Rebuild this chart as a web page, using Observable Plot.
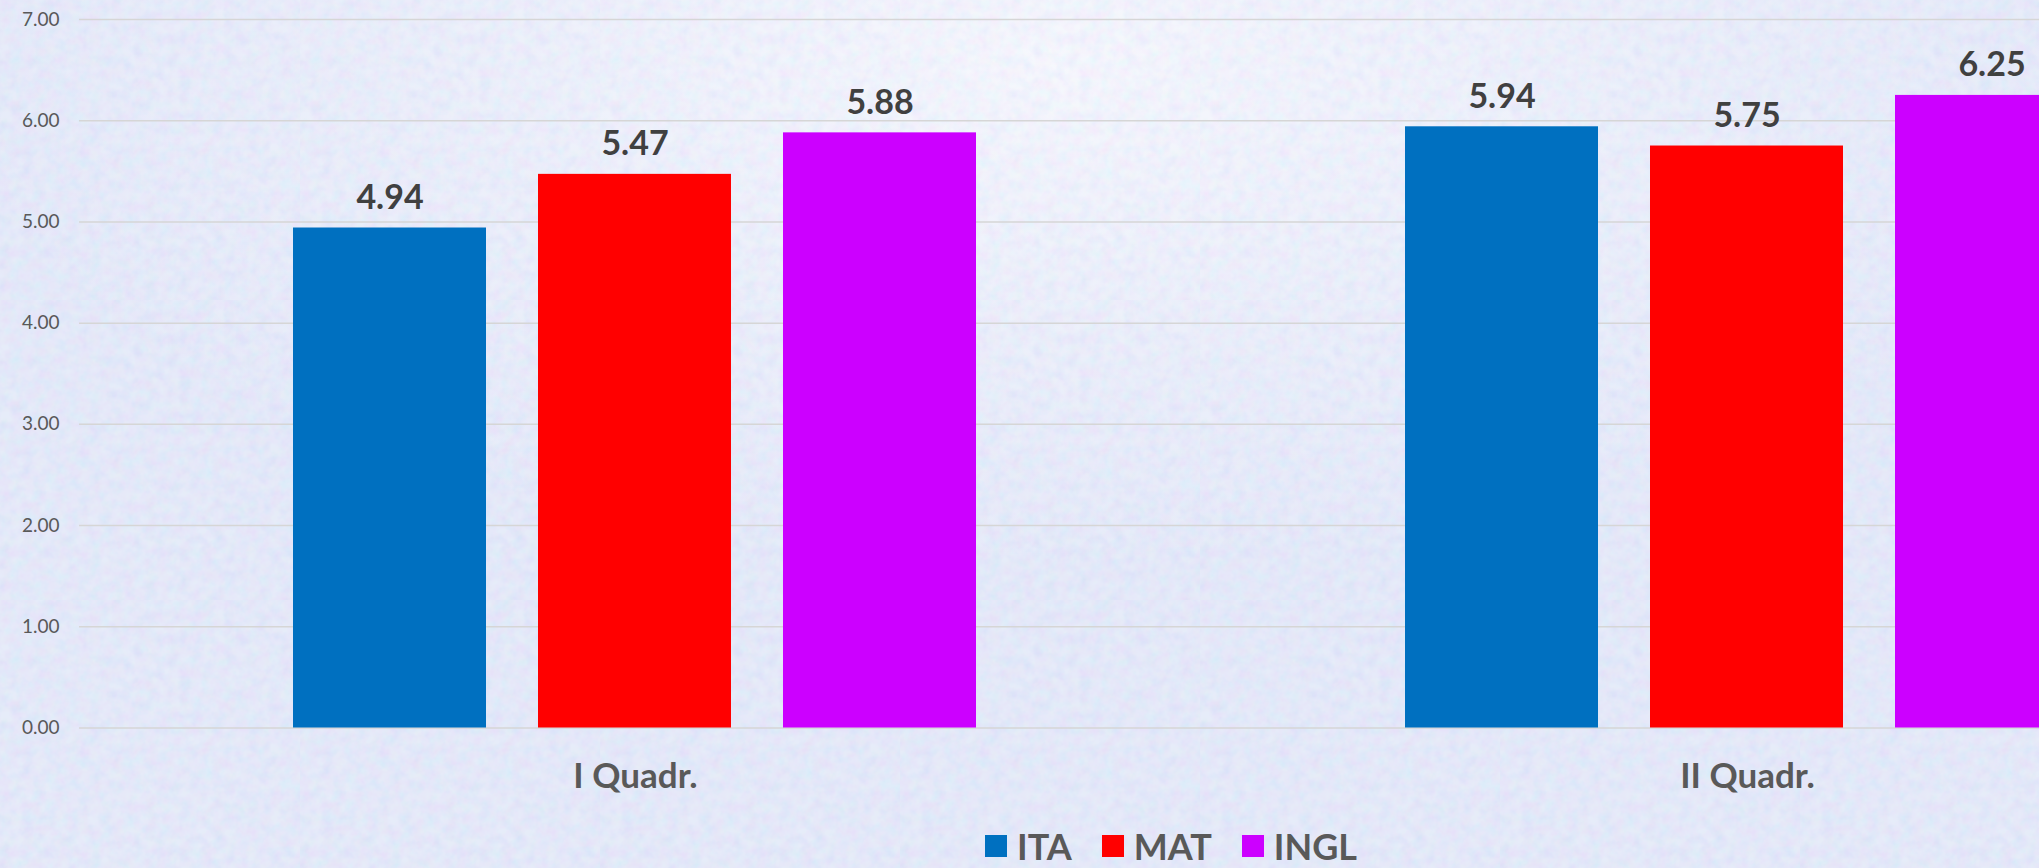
<!DOCTYPE html>
<html>
<head>
<meta charset="utf-8">
<script src="https://cdn.jsdelivr.net/npm/d3@7"></script>
<script src="https://cdn.jsdelivr.net/npm/@observablehq/plot@0.6"></script>
<style>
  html, body { margin: 0; padding: 0; overflow: hidden; width: 2039px; height: 868px; }
  body {
    position: relative;
    background: radial-gradient(ellipse 1100px 500px at 1050px 60px, #f1f4fc 0%, #e2e8f8 55%, #d9e1f6 100%);
    font-family: Lato, "Open Sans", sans-serif;
  }
  #noise {
    position: absolute; left: 0; top: 0; width: 2039px; height: 868px; opacity: 0.35; pointer-events: none;
    background-image: url("data:image/svg+xml;utf8,<svg xmlns='http://www.w3.org/2000/svg' width='300' height='300'><filter id='n'><feTurbulence type='fractalNoise' baseFrequency='0.09' numOctaves='3' stitchTiles='stitch'/><feColorMatrix type='matrix' values='0.6 0 0 0 0.62  0 0.45 0 0 0.68  0 0 0.2 0 0.88  0 0 0 0 1'/></filter><rect width='300' height='300' filter='url(%23n)'/></svg>");
  }
  #chart { width: 2310px; position: relative; }
  #chart svg { display: block; background: transparent; max-width: none !important; }
  #legend {
    position: relative;
    width: 2310px; box-sizing: border-box; padding-left: 32px; padding-top: 24px; height: 68px;
    display: flex; justify-content: center; align-items: center; gap: 30px;
    color: #595959; font-weight: bold; font-size: 36px; font-family: Lato, "Open Sans", sans-serif;
  }
  .item { display: flex; align-items: center; gap: 10px; }
  .sw { width: 22px; height: 22px; display: inline-block; }
</style>
</head>
<body>
<div id="noise"></div>
<div id="chart"></div>
<div id="legend"></div>
<script>
const groups = ["I Quadr.", "II Quadr."];
const subjects = ["ITA", "MAT", "INGL"];
const ita = [4.94, 5.94];
const mat = [5.47, 5.75];
const ingl = [5.88, 6.25];
const colors = ["#0070c0", "#ff0000", "#cc00ff"];
const yTicks = [0, 1, 2, 3, 4, 5, 6, 7];

const series = [ita, mat, ingl];
const data = groups.flatMap((g, i) => subjects.map((s, j) => ({group: g, subject: s, value: series[j][i]})));

const chart = Plot.plot({
  width: 2310,
  height: 800,
  marginLeft: 78,
  marginRight: 7,
  marginTop: 19,
  marginBottom: 72.5,
  style: {fontFamily: "Lato, 'Open Sans', sans-serif", color: "#595959", background: "transparent", maxWidth: "none"},
  fx: {domain: groups, padding: 0, label: null, axis: null},
  x: {domain: subjects, paddingInner: 0.2114, paddingOuter: 0.867, axis: null},
  y: {domain: [0, 7], label: null},
  color: {domain: subjects, range: colors},
  marks: [
    Plot.gridY(yTicks, {stroke: "#d6d6d6", strokeOpacity: 1, strokeWidth: 1.5}),
    Plot.axisY(yTicks, {tickFormat: d => d.toFixed(2), tickSize: 0, tickPadding: 20, fontSize: 19, label: null}),
    Plot.barY(data, {fx: "group", x: "subject", y: "value", fill: "subject"}),
    Plot.text(data, {fx: "group", x: "subject", y: "value", text: d => d.value.toFixed(2),
      lineAnchor: "bottom", dy: -19, fontSize: 34, fontWeight: "bold", fill: "#404040"}),
    Plot.axisFx({anchor: "bottom", tickSize: 0, tickPadding: 35, fontSize: 35, fontWeight: "bold", label: null})
  ]
});
document.getElementById("chart").appendChild(chart);

const legend = document.getElementById("legend");
subjects.forEach((s, i) => {
  const item = document.createElement("span");
  item.className = "item";
  const sw = document.createElement("span");
  sw.className = "sw";
  sw.style.background = colors[i];
  const t = document.createElement("span");
  t.textContent = s;
  item.appendChild(sw);
  item.appendChild(t);
  legend.appendChild(item);
});
</script>
</body>
</html>
